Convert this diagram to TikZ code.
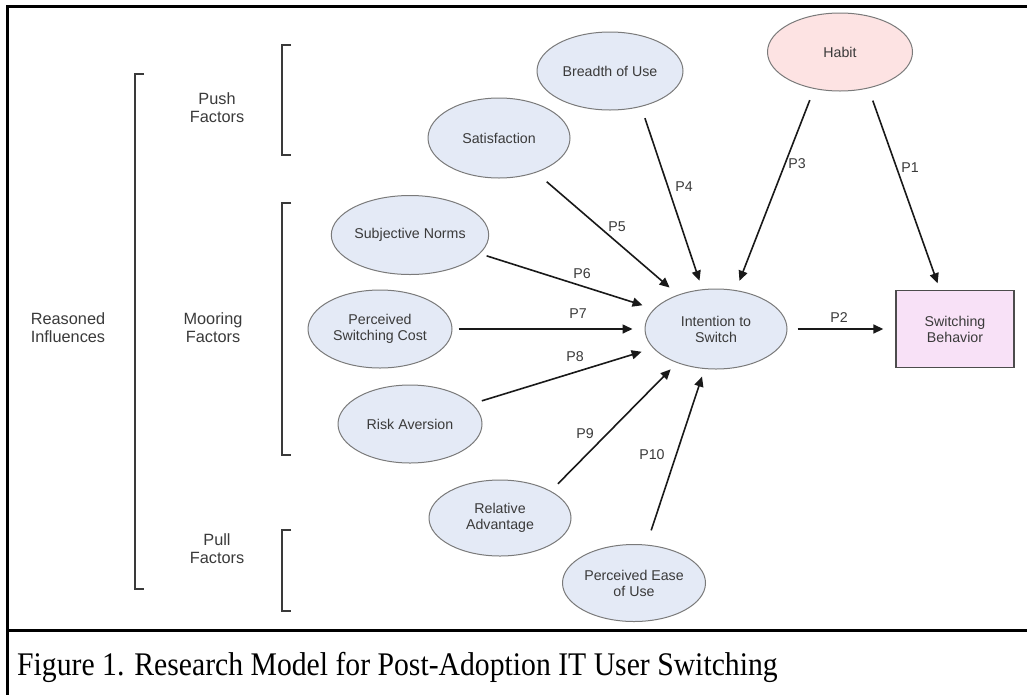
\documentclass[tikz,border=0pt]{standalone}
\usepackage{fontspec}
\setmainfont{Liberation Serif}
\newfontfamily\arialf{Liberation Sans}
\newfontfamily\capf{Liberation Serif}[FakeStretch=0.9]
\usetikzlibrary{arrows.meta,shapes.geometric}
\definecolor{ellfill}{HTML}{E4EAF6}
\definecolor{ellline}{HTML}{7A7A7A}
\definecolor{habfill}{HTML}{FDE3E3}
\definecolor{sbfill}{HTML}{F8E1F7}
\definecolor{txt}{HTML}{3A3A3A}
\definecolor{brkcol}{HTML}{3A3A3A}
\begin{document}
\begin{tikzpicture}[x=1pt,y=-1pt,
  ell/.style={ellipse, draw=ellline, fill=ellfill, line width=1pt, inner sep=0pt,
    minimum width=144pt, minimum height=79pt, align=center,
    font=\arialf\fontsize{14.2}{16}\selectfont, text=txt},
  boxnode/.style={rectangle, draw=black!70, fill=sbfill, line width=1.4pt, inner sep=0pt,
    minimum width=118pt, minimum height=77pt, align=center,
    font=\arialf\fontsize{14.2}{16}\selectfont, text=txt},
  plabel/.style={font=\arialf\fontsize{14.2}{16}\selectfont, text=txt, inner sep=0pt},
  grplabel/.style={font=\arialf\fontsize{16.3}{18}\selectfont, text=txt, align=center, inner sep=0pt},
  arr/.style={line width=1.6pt, black!90, -{Triangle[length=10pt,width=9pt]}},
  brk/.style={line width=1.5pt, brkcol},
  frame/.style={line width=3pt, black}
]
\useasboundingbox (0,0) rectangle (1027,694);
\fill[white] (0,0) rectangle (1027,694);
% frame
\draw[frame] (7,700) -- (7,6) -- (1035,6);
\draw[frame] (7,630) -- (1035,630);
% caption
\node[anchor=base west, inner sep=0pt, font=\capf\fontsize{33}{36}\selectfont] (cap) at (17,675) {Figure 1. Research Model for Post-Adoption IT User Switching};

% brackets
\draw[brk] (144,74) -- (135,74) -- (135,589) -- (144,589);
\draw[brk] (291,45) -- (282,45) -- (282,155) -- (291,155);
\draw[brk] (291,203) -- (282,203) -- (282,455) -- (291,455);
\draw[brk] (291,530) -- (282,530) -- (282,611) -- (291,611);
\node[grplabel] (reas) at (68,328) {Reasoned\\Influences};
\node[grplabel] (push) at (217,108) {Push\\Factors};
\node[grplabel] (moor) at (213,328) {Mooring\\Factors};
\node[grplabel] (pull) at (217,549) {Pull\\Factors};

% nodes
\node[ell, fill=habfill, minimum width=145pt, minimum height=78pt] (hab) at (840,52) {Habit};
\node[ell, minimum width=146pt, minimum height=78pt] (bre) at (610,71) {Breadth of Use};
\node[ell, minimum width=142pt, minimum height=80pt] (sat) at (499,138) {Satisfaction};
\node[ell] (sno) at (410,235) {Subjective Norms};
\node[ell, minimum height=78pt] (psc) at (380,329) {Perceived\\Switching Cost};
\node[ell, minimum height=78pt] (ris) at (410,424) {Risk Aversion};
\node[ell, minimum width=142pt, minimum height=76pt] (rad) at (500,518) {Relative\\Advantage};
\node[ell, minimum width=143pt, minimum height=77pt] (peu) at (634,583) {Perceived Ease\\of Use};
\node[ell, minimum width=142pt, minimum height=80pt] (int) at (716,329) {Intention to\\Switch};
\node[boxnode] (sb) at (955,329) {Switching\\Behavior};

% connectors
\draw[arr, shorten <=13pt, shorten >=7pt] (hab.-52.7) -- (sb.111.6);
\draw[arr, shorten <=10pt, shorten >=12pt] (int.east) -- (sb.west);
\draw[arr, shorten <=12pt, shorten >=10pt] (hab.-125.7) -- (int.63.4);
\draw[arr, shorten <=12pt, shorten >=9pt] (bre.-49.8) -- (int.109.5);
\draw[arr, shorten <=14pt, shorten >=11pt] (sat.-43.1) -- (int.138.9);
\draw[arr, shorten <=7pt, shorten >=12pt] (sno.-15.7) -- (int.162.7);
\draw[arr, shorten <=6pt, shorten >=12pt] (psc.east) -- (int.west);
\draw[arr, shorten <=10pt, shorten >=12pt] (ris.18.7) -- (int.-163.4);
\draw[arr, shorten <=10pt, shorten >=9pt] (rad.28) -- (int.-139.7);
\draw[arr, shorten <=15pt, shorten >=8pt] (peu.72.9) -- (int.-106.6);

% connector labels
\node[plabel] (l1) at (910,168) {P1};
\node[plabel] (l2) at (839,318) {P2};
\node[plabel] (l3) at (797,164) {P3};
\node[plabel] (l4) at (684,187) {P4};
\node[plabel] (l5) at (617,227) {P5};
\node[plabel] (l6) at (582,274) {P6};
\node[plabel] (l7) at (578,314) {P7};
\node[plabel] (l8) at (575,357) {P8};
\node[plabel] (l9) at (585,434) {P9};
\node[plabel] (l10) at (652,455) {P10};
\end{tikzpicture}
\end{document}
